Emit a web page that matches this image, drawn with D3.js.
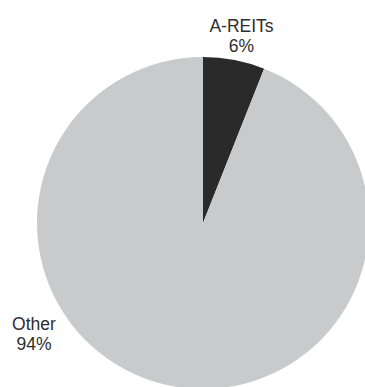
<!DOCTYPE html>
<html>
<head>
<meta charset="utf-8">
<script src="https://cdn.jsdelivr.net/npm/d3@7/dist/d3.min.js"></script>
<style>
  html, body { margin: 0; padding: 0; background: #fff; }
  svg { display: block; }
  text { font-family: "Liberation Sans", Arial, Helvetica, sans-serif; fill: #2e2e2e; }
</style>
</head>
<body>
<svg id="chart" width="365" height="387"></svg>
<script>
// Share of the portfolio by segment
const categories = ["A-REITs", "Other"];
const shares = [6, 94];
const sliceColors = ["#2a2a2a", "#c9cacc"];

const svg = d3.select("#chart");
const cx = 203, cy = 223, radius = 166;

const pie = d3.pie().sort(null).value(d => d)(shares);
const arc = d3.arc().innerRadius(0).outerRadius(radius);
const color = d3.scaleOrdinal().domain(categories).range(sliceColors);

const g = svg.append("g").attr("transform", `translate(${cx},${cy})`);

g.selectAll("path")
  .data(pie)
  .join("path")
  .attr("d", arc)
  .attr("fill", (d, i) => color(categories[i]));

// Label anchors (centre of the two-line label block), in chart coordinates
const labelAnchors = [[241.5, 24.5], [34, 322.5]];

const labels = svg.selectAll("text.label")
  .data(pie)
  .join("text")
  .attr("class", "label")
  .attr("text-anchor", "middle")
  .attr("font-size", 17.5)
  .attr("transform", (d, i) => `translate(${labelAnchors[i][0]},${labelAnchors[i][1]})`);

labels.append("tspan")
  .attr("x", 0).attr("y", 7)
  .text((d, i) => categories[i]);
labels.append("tspan")
  .attr("x", 0).attr("y", 27.5)
  .text(d => d.data + "%");
</script>
</body>
</html>
